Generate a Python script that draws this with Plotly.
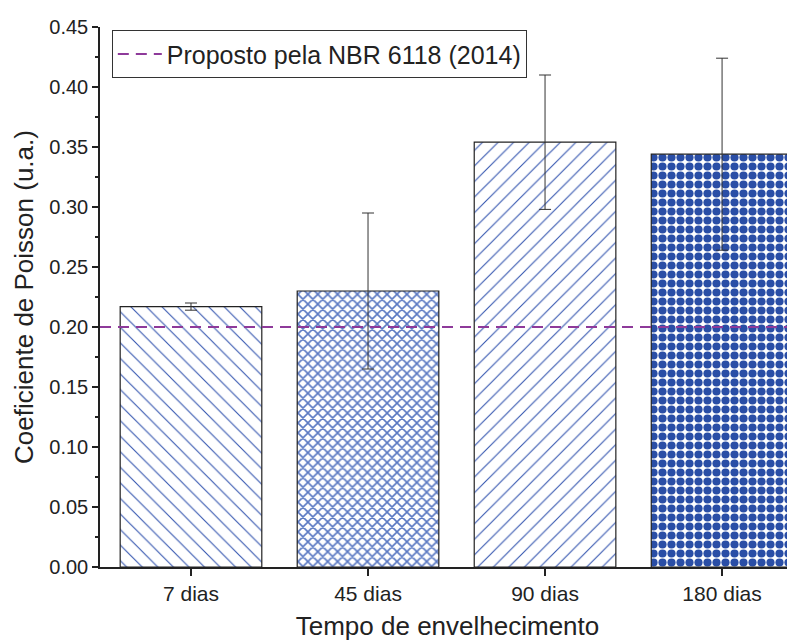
import plotly.graph_objects as go

categories = ["7 dias", "45 dias", "90 dias", "180 dias"]
poisson = [0.217, 0.230, 0.354, 0.344]
poisson_err = [0.003, 0.065, 0.056, 0.080]
nbr_value = 0.20
nbr_label = "Proposto pela NBR 6118 (2014)"
x_range = [-0.514, 3.412]

FONT = "Arial, Liberation Sans, sans-serif"

fig = go.Figure()
fig.add_trace(go.Bar(
    x=categories, y=poisson, width=0.8,
    marker=dict(
        color="white",
        line=dict(color="#222222", width=1.2),
        pattern=dict(
            shape=["\\", "x", "/", "."],
            size=[11, 7, 11, 9],
            solidity=[0.1, 0.4, 0.1, 0.65],
            fgcolor=["#3556b0", "#5a78c2", "#3556b0", "#2a4ea6"],
            bgcolor="white",
            fillmode="replace",
        ),
    ),
    error_y=dict(type="data", array=poisson_err, visible=True,
                 color="#333333", thickness=1, width=6),
    showlegend=False,
))

fig.add_trace(go.Scatter(
    x=x_range, y=[nbr_value, nbr_value], mode="lines",
    line=dict(color="#8e3a9a", width=2, dash="11px,7px"),
    name=nbr_label, xaxis="x2",
))

fig.update_layout(
    width=787, height=633,
    margin=dict(l=92, r=0, t=19, b=74, autoexpand=False),
    plot_bgcolor="white", paper_bgcolor="white",
    font=dict(family=FONT, color="#222222", size=20),
    bargap=0.2,
    xaxis=dict(
        type="category", range=x_range,
        showline=True, linecolor="#222222", linewidth=1.5,
        ticks="outside", ticklen=7, tickcolor="#222222", tickwidth=1.5,
        showgrid=False, zeroline=False,
        tickfont=dict(size=21),
        title=dict(text="Tempo de envelhecimento", font=dict(size=26), standoff=14),
    ),
    xaxis2=dict(overlaying="x", range=x_range, visible=False),
    yaxis=dict(
        range=[0, 0.45], dtick=0.05, tickformat=".2f",
        showline=True, linecolor="#222222", linewidth=1.5,
        ticks="outside", ticklen=6, tickcolor="#222222", tickwidth=1.5,
        minor=dict(dtick=0.025, ticks="outside", ticklen=3, tickcolor="#222222"),
        showgrid=False, zeroline=False,
        tickfont=dict(size=20),
        title=dict(text="Coeficiente de Poisson (u.a.)", font=dict(size=26), standoff=8),
    ),
    legend=dict(
        x=0.017, y=0.994, xanchor="left", yanchor="top",
        bordercolor="#333333", borderwidth=1, bgcolor="white",
        font=dict(size=25), itemwidth=44,
    ),
)

fig.write_html("out.html")
